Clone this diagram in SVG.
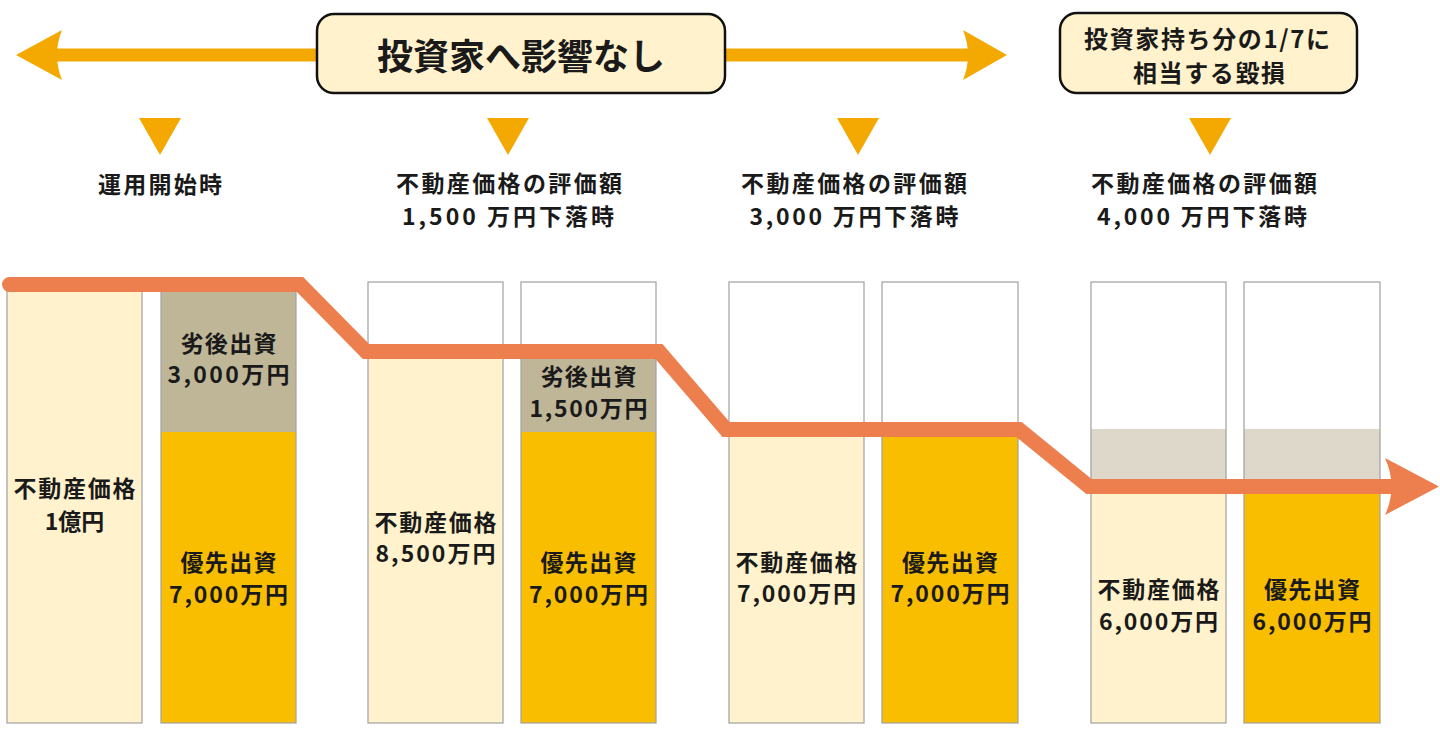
<svg xmlns="http://www.w3.org/2000/svg" width="1440" height="735" viewBox="0 0 1440 735">
<style>
text{font-family:"Noto Sans CJK JP","Noto Sans CJK SC",sans-serif;font-weight:bold;fill:#1a1a1a;text-anchor:middle;dominant-baseline:central}
.bt{font-size:23px}
.lb{font-size:23px}
.box{fill:#FFF2CC;stroke:#111;stroke-width:2.5}
.tri{fill:#F4A902}
.ol{fill:none;stroke:#A0A0A0;stroke-width:1.2}
.lt{fill:#FFF2CC}
.yl{fill:#F9BE00}
.gr{fill:#BFB698}
.lg{fill:#DED8CA}
.wh{fill:#FFFFFF}
</style>
<rect width="1440" height="735" fill="#FFFFFF"/>

<g id="connectors">
  <g id="top-arrow">
    <line x1="55" y1="55" x2="970" y2="55" stroke="#F4A902" stroke-width="13"/>
    <path d="M16,55 L62,30 Q52,55 62,80 Z" fill="#F4A902"/>
    <path d="M1007,55 L963,30 Q973,55 963,80 Z" fill="#F4A902"/>
  </g>
</g>

<g id="box-no-impact">
  <rect class="box" x="317" y="14" width="408" height="79" rx="17"/>
  <text x="521" y="54" style="font-size:36px">投資家へ影響なし</text>
</g>
<g id="box-loss">
  <rect class="box" x="1060" y="13" width="297" height="80" rx="17"/>
  <text x="1207" y="37" style="font-size:24px" textLength="246" lengthAdjust="spacing">投資家持ち分の1/7に</text>
  <text x="1209" y="71" style="font-size:24px" textLength="152" lengthAdjust="spacing">相当する毀損</text>
</g>

<g id="stage-1-label">
  <path class="tri" d="M139,118 L181,118 L160,155 Z"/>
  <text class="lb" x="160" y="183" textLength="124" lengthAdjust="spacing">運用開始時</text>
</g>
<g id="stage-2-label">
  <path class="tri" d="M487,118 L529,118 L508,155 Z"/>
  <text class="lb" x="509" y="182" textLength="226" lengthAdjust="spacing">不動産価格の評価額</text>
  <text class="lb" x="508" y="215" textLength="212" lengthAdjust="spacing">1,500 万円下落時</text>
</g>
<g id="stage-3-label">
  <path class="tri" d="M837,118 L879,118 L858,155 Z"/>
  <text class="lb" x="854" y="182" textLength="226" lengthAdjust="spacing">不動産価格の評価額</text>
  <text class="lb" x="854" y="215" textLength="209" lengthAdjust="spacing">3,000 万円下落時</text>
</g>
<g id="stage-4-label">
  <path class="tri" d="M1189,118 L1231,118 L1210,155 Z"/>
  <text class="lb" x="1204" y="182" textLength="226" lengthAdjust="spacing">不動産価格の評価額</text>
  <text class="lb" x="1202" y="215" textLength="210" lengthAdjust="spacing">4,000 万円下落時</text>
</g>

<g id="bar-a">
  <rect class="lt" x="7" y="286" width="135" height="437"/>
  <rect class="ol" x="7" y="286" width="135" height="437"/>
  <text class="bt" x="74.5" y="487" textLength="122" lengthAdjust="spacing">不動産価格</text>
  <text class="bt" x="74.5" y="520">1億円</text>
</g>
<g id="bar-b">
  <rect class="gr" x="161" y="286" width="135" height="146"/>
  <rect class="yl" x="161" y="432" width="135" height="291"/>
  <rect class="ol" x="161" y="286" width="135" height="437"/>
  <text class="bt" x="228.5" y="342" textLength="96" lengthAdjust="spacing">劣後出資</text>
  <text class="bt" x="228.5" y="373" textLength="122" lengthAdjust="spacing">3,000万円</text>
  <text class="bt" x="228.5" y="561" textLength="96" lengthAdjust="spacing">優先出資</text>
  <text class="bt" x="228.5" y="593" textLength="119" lengthAdjust="spacing">7,000万円</text>
</g>

<g id="bar-c">
  <rect class="wh" x="368" y="282" width="135" height="69"/>
  <rect class="lt" x="368" y="351" width="135" height="372"/>
  <rect class="ol" x="368" y="282" width="135" height="441"/>
  <text class="bt" x="435.5" y="521" textLength="122" lengthAdjust="spacing">不動産価格</text>
  <text class="bt" x="435.5" y="552" textLength="120" lengthAdjust="spacing">8,500万円</text>
</g>
<g id="bar-d">
  <rect class="wh" x="521" y="282" width="135" height="69"/>
  <rect class="gr" x="521" y="351" width="135" height="81"/>
  <rect class="yl" x="521" y="432" width="135" height="291"/>
  <rect class="ol" x="521" y="282" width="135" height="441"/>
  <text class="bt" x="588.5" y="375" textLength="96" lengthAdjust="spacing">劣後出資</text>
  <text class="bt" x="588.5" y="407" textLength="118" lengthAdjust="spacing">1,500万円</text>
  <text class="bt" x="588.5" y="561" textLength="96" lengthAdjust="spacing">優先出資</text>
  <text class="bt" x="588.5" y="593" textLength="119" lengthAdjust="spacing">7,000万円</text>
</g>

<g id="bar-e">
  <rect class="wh" x="729" y="282" width="135" height="148"/>
  <rect class="lt" x="729" y="430" width="135" height="293"/>
  <rect class="ol" x="729" y="282" width="135" height="441"/>
  <text class="bt" x="796.5" y="561" textLength="122" lengthAdjust="spacing">不動産価格</text>
  <text class="bt" x="796.5" y="592" textLength="119" lengthAdjust="spacing">7,000万円</text>
</g>
<g id="bar-f">
  <rect class="wh" x="882" y="282" width="136" height="148"/>
  <rect class="yl" x="882" y="430" width="136" height="293"/>
  <rect class="ol" x="882" y="282" width="136" height="441"/>
  <text class="bt" x="950" y="561" textLength="96" lengthAdjust="spacing">優先出資</text>
  <text class="bt" x="950" y="592" textLength="119" lengthAdjust="spacing">7,000万円</text>
</g>

<g id="bar-g">
  <rect class="wh" x="1091" y="282" width="135" height="147"/>
  <rect class="lg" x="1091" y="429" width="135" height="58"/>
  <rect class="lt" x="1091" y="487" width="135" height="236"/>
  <rect class="ol" x="1091" y="282" width="135" height="441"/>
  <text class="bt" x="1158.5" y="588" textLength="122" lengthAdjust="spacing">不動産価格</text>
  <text class="bt" x="1158.5" y="620" textLength="119" lengthAdjust="spacing">6,000万円</text>
</g>
<g id="bar-h">
  <rect class="wh" x="1244" y="282" width="136" height="147"/>
  <rect class="lg" x="1244" y="429" width="136" height="58"/>
  <rect class="yl" x="1244" y="487" width="136" height="236"/>
  <rect class="ol" x="1244" y="282" width="136" height="441"/>
  <text class="bt" x="1312" y="588" textLength="96" lengthAdjust="spacing">優先出資</text>
  <text class="bt" x="1312" y="620" textLength="119" lengthAdjust="spacing">6,000万円</text>
</g>

<g id="connectors-value-line">
  <path d="M9.5,284.5 L300,284.5 L366,351.5 L659,351.5 L726,429.5 L1019,429.5 L1089,486.5 L1396,486.5" fill="none" stroke="#EC7F4D" stroke-width="15" stroke-linecap="round" stroke-linejoin="miter"/>
  <path d="M1385,458 L1439,486.5 L1385,515 Q1398,486.5 1385,458 Z" fill="#EC7F4D"/>
</g>
</svg>
